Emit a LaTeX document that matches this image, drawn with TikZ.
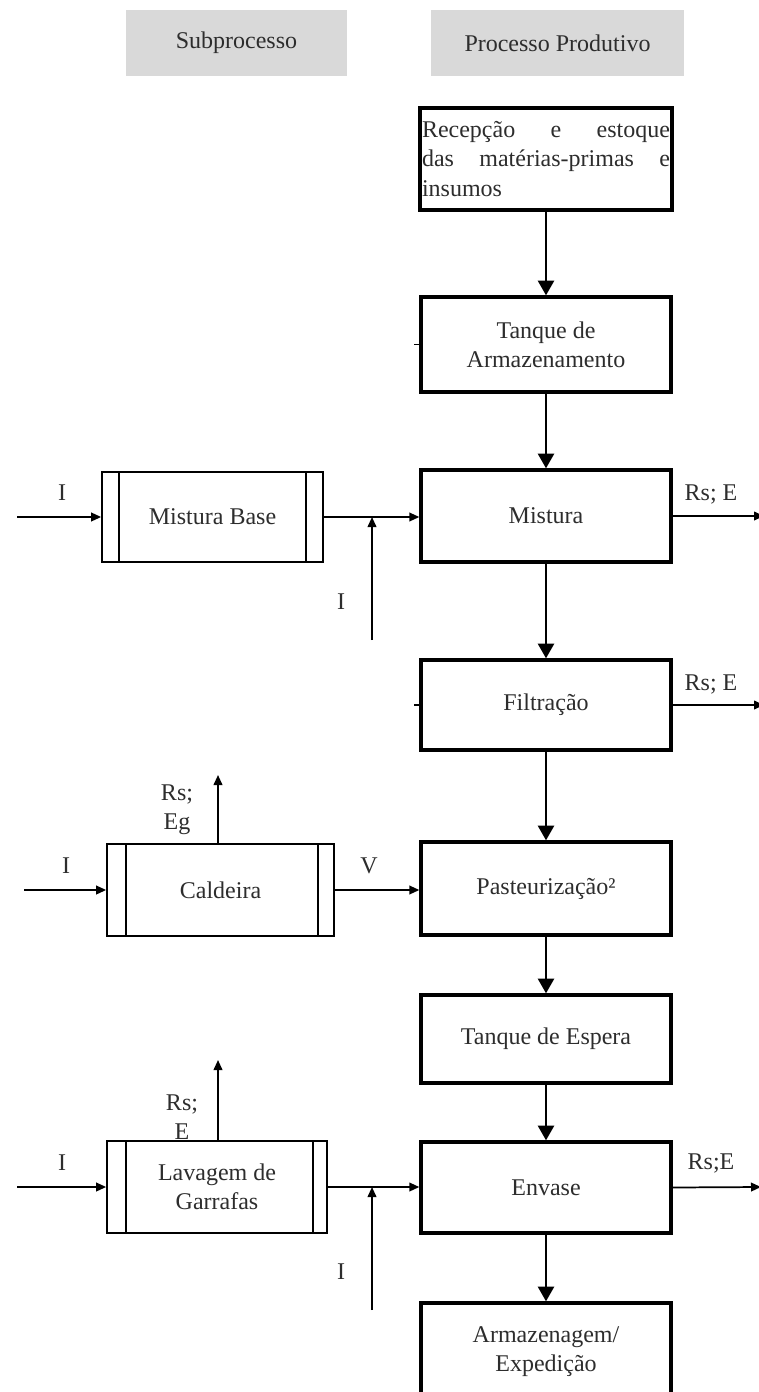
\documentclass[tikz,border=0pt]{standalone}
\usepackage{fontspec}
\setmainfont{Liberation Serif}
\usetikzlibrary{arrows.meta}
\definecolor{hdr}{RGB}{217,217,217}
\definecolor{txt}{RGB}{45,45,45}
\begin{document}
\begin{tikzpicture}[x=0.75pt,y=-0.75pt,
  every node/.style={font=\fontsize{18}{22}\selectfont, text=txt},
  hdrbox/.style={fill=hdr, minimum height=49.5pt, inner sep=0pt},
  mainbox/.style={draw, line width=2.5pt, minimum width=187.5pt, align=center, inner sep=2pt},
  subbox/.style={draw, line width=1.3pt, align=center, inner sep=2pt},
  bigarrow/.style={line width=1.8pt, -{Triangle[width=12pt,length=11pt]}},
  smallarrow/.style={line width=1.3pt, -{Triangle[width=6.5pt,length=7.5pt]}},
  plainline/.style={line width=1.3pt},
  lbl/.style={inner sep=0pt, align=center}
]
\useasboundingbox (0,0) rectangle (759,1392);
\fill[white] (0,0) rectangle (759,1392);

% headers
\node[hdrbox, minimum width=165.75pt] (hsub) at (236.5,43) {Subprocesso};
\node[hdrbox, minimum width=189.75pt] (hproc) at (557.5,43) {Processo Produtivo};

% main column
\node[mainbox, text width=186pt, align=justify, minimum height=76.5pt, inner sep=1.5pt] (rec) at (546,159) {Recepção e estoque\linebreak das matérias-primas e\linebreak insumos};
\node[mainbox, minimum height=71.25pt] (tanq) at (546,344.5) {Tanque de\\Armazenamento};
\node[mainbox, minimum height=69pt] (mist) at (546,516) {Mistura};
\node[mainbox, minimum height=67.5pt] (filt) at (546,705) {Filtração};
\node[mainbox, minimum height=69.75pt] (past) at (546,888.5) {Pasteurização²};
\node[mainbox, minimum height=66pt] (tesp) at (546,1039) {Tanque de Espera};
\node[mainbox, minimum height=68.25pt] (env) at (546,1187.5) {Envase};
\node[mainbox, minimum height=72.75pt] (arm) at (546,1351.5) {Armazenagem/\\Expedição};

\draw[bigarrow] (rec.south) -- (tanq.north);
\draw[bigarrow] (tanq.south) -- (mist.north);
\draw[bigarrow] (mist.south) -- (filt.north);
\draw[bigarrow] (filt.south) -- (past.north);
\draw[bigarrow] (past.south) -- (tesp.north);
\draw[bigarrow] (tesp.south) -- (env.north);
\draw[bigarrow] (env.south) -- (arm.north);

% small ticks
\draw[line width=1pt] (tanq.west) -- ++(-5,0);
\draw[line width=1pt] (filt.west) -- ++(-5,0);

% subprocess boxes
\node[subbox, minimum width=165.75pt, minimum height=67.5pt] (mb) at (212.5,517) {Mistura Base};
\node[subbox, minimum width=170.25pt, minimum height=69pt] (cald) at (220.5,890) {Caldeira};
\node[subbox, minimum width=165pt, minimum height=69pt] (lav) at (217,1187) {Lavagem de\\Garrafas};

\draw[plainline] ([xshift=13.5pt]mb.north west) -- ([xshift=13.5pt]mb.south west);
\draw[plainline] ([xshift=-13.5pt]mb.north east) -- ([xshift=-13.5pt]mb.south east);
\draw[plainline] ([xshift=15pt]cald.north west) -- ([xshift=15pt]cald.south west);
\draw[plainline] ([xshift=-12.75pt]cald.north east) -- ([xshift=-12.75pt]cald.south east);
\draw[plainline] ([xshift=15pt]lav.north west) -- ([xshift=15pt]lav.south west);
\draw[plainline] ([xshift=-11.25pt]lav.north east) -- ([xshift=-11.25pt]lav.south east);

% Mistura row
\coordinate (i1) at (17,517);
\draw[smallarrow] (i1) -- (mb.west);
\draw[smallarrow] (mb.east) -- (mb.east -| mist.west);
\coordinate (j1) at (372,640);
\draw[smallarrow] (j1) -- (j1 |- mb.east);
\coordinate (o1) at (764,516);
\draw[smallarrow] (mist.east) -- (o1);
\node[lbl] (l1) at (62,493) {I};
\node[lbl] (l2) at (341,602) {I};
\node[lbl] (l3) at (711,494) {Rs; E};

% Filtracao row
\coordinate (o2) at (764,705);
\draw[smallarrow] (filt.east) -- (o2);
\node[lbl] (l4) at (711,684) {Rs; E};

% Caldeira row
\coordinate (i2) at (24,890);
\draw[smallarrow] (i2) -- (cald.west);
\draw[smallarrow] (cald.east) -- (cald.east -| past.west);
\coordinate (u1) at (218,775);
\draw[smallarrow] (cald.north -| u1) -- (u1);
\node[lbl] (l5) at (66,866) {I};
\node[lbl] (l6) at (369,866) {V};
\node[lbl] (l7) at (177,810) {Rs;\\Eg};

% Lavagem row
\coordinate (i3) at (17,1187);
\draw[smallarrow] (i3) -- (lav.west);
\draw[smallarrow] (lav.east) -- (lav.east -| env.west);
\coordinate (j2) at (372,1310);
\draw[smallarrow] (j2) -- (j2 |- lav.east);
\coordinate (u2) at (218,1060);
\draw[smallarrow] (lav.north -| u2) -- (u2);
\coordinate (o3) at (761,1187);
\draw[smallarrow] (env.east) -- (o3);
\node[lbl] (l8) at (62,1163) {I};
\node[lbl] (l9) at (341,1272) {I};
\node[lbl] (l10) at (182,1117) {Rs;\\E};
\node[lbl] (l11) at (711,1163) {Rs;E};
\end{tikzpicture}
\end{document}
